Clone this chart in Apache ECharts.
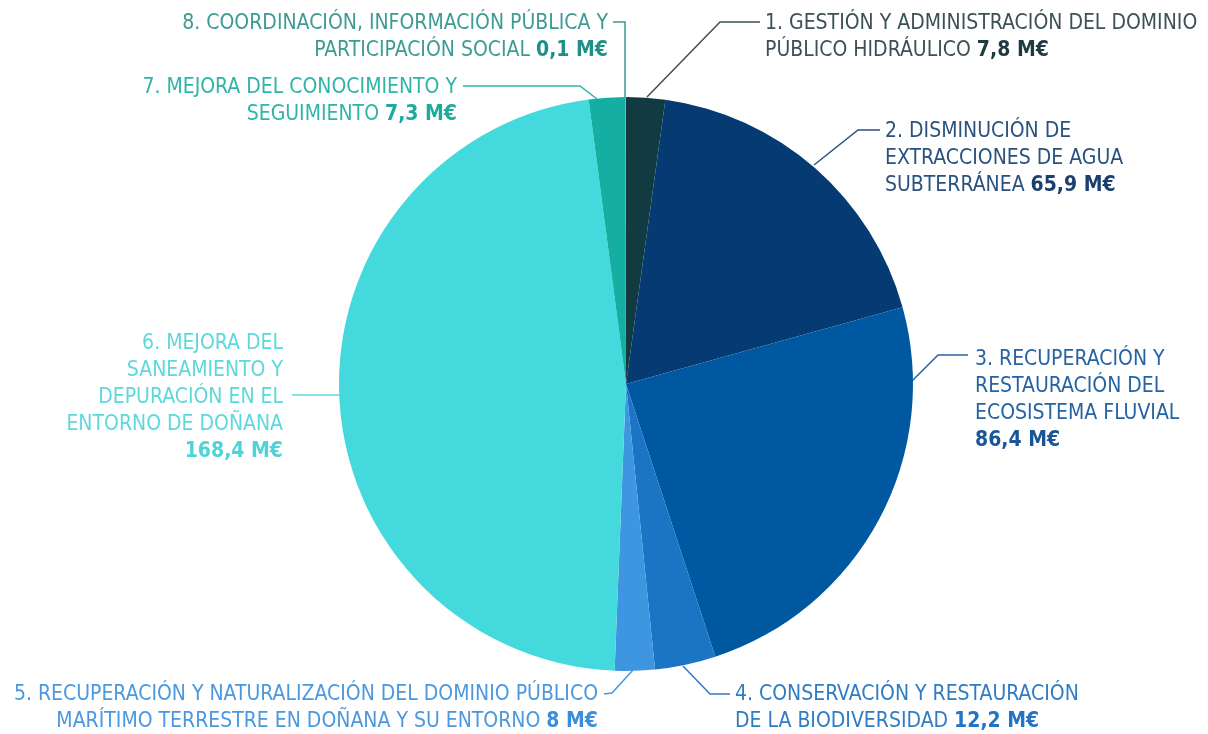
<!DOCTYPE html>
<html>
<head>
<meta charset="utf-8">
<script src="https://cdn.jsdelivr.net/npm/echarts@6/dist/echarts.min.js"></script>
<style>
  html, body { margin: 0; padding: 0; background: #fff; }
  #chart { width: 1208px; height: 734px; }
</style>
</head>
<body>
<div id="chart"></div>
<script>
// datos (M€)
var names = [
  '1. GESTIÓN Y ADMINISTRACIÓN DEL DOMINIO\nPÚBLICO HIDRÁULICO ',
  '2. DISMINUCIÓN DE\nEXTRACCIONES DE AGUA\nSUBTERRÁNEA ',
  '3. RECUPERACIÓN Y\nRESTAURACIÓN DEL\nECOSISTEMA FLUVIAL\n',
  '4. CONSERVACIÓN Y RESTAURACIÓN\nDE LA BIODIVERSIDAD ',
  '5. RECUPERACIÓN Y NATURALIZACIÓN DEL DOMINIO PÚBLICO\nMARÍTIMO TERRESTRE EN DOÑANA Y SU ENTORNO ',
  '6. MEJORA DEL\nSANEAMIENTO Y\nDEPURACIÓN EN EL\nENTORNO DE DOÑANA\n',
  '7. MEJORA DEL CONOCIMIENTO Y\nSEGUIMIENTO ',
  '8. COORDINACIÓN, INFORMACIÓN PÚBLICA Y\nPARTICIPACIÓN SOCIAL '
];
var values = [7.8, 65.9, 86.4, 12.2, 8, 168.4, 7.3, 0.1];

// estilos
var sliceColors = ['#113b40', '#053a73', '#0059a0', '#1c74c5', '#3d96df', '#43d9dd', '#14afa2', '#2ab8a8'];
var textColors = ['#3b5157', '#2a527e', '#2663a3', '#2f7bc4', '#4a98df', '#5cd8dc', '#2fb4a8', '#3d9b94'];
var boldColors = ['#1f3a40', '#1b3f6f', '#1a5597', '#2374c6', '#3a8edb', '#4fd3d8', '#1eaa9d', '#1f8f87'];

// posiciones de etiquetas: [x, y, align, puntos de la línea guía]
var labelPos = [
  [765, 10, 'left', [[647, 97], [720, 22], [760, 22]]],
  [885, 118, 'left', [[814, 165], [858, 130], [880, 130]]],
  [975, 346, 'left', [[912, 381], [938, 355], [968, 355]]],
  [735, 681, 'left', [[683, 666], [710, 694], [730, 694]]],
  [598, 681, 'right', [[633, 670], [612, 693], [604, 694]]],
  [283, 330, 'right', [[341, 395], [316, 395], [292, 395]]],
  [457, 74, 'right', [[597, 99], [580, 86], [463, 86]]],
  [608, 10, 'right', [[625, 97], [625, 22], [613, 22]]]
];

function fmt(v) {
  return (v % 1 === 0 ? String(v) : v.toFixed(1).replace('.', ',')) + ' M€';
}

var font = "'DejaVu Sans Condensed', 'Liberation Sans Narrow', 'Roboto', sans-serif";

var chart = echarts.init(document.getElementById('chart'));
var option = {
  backgroundColor: '#ffffff',
  animation: false,
  series: [{
    type: 'pie',
    center: [626, 384],
    radius: 287,
    startAngle: 90,
    clockwise: true,
    avoidLabelOverlap: false,
    data: values.map(function (v, i) {
      var rich = {};
      rich['b' + i] = { fontWeight: 'bold', color: boldColors[i], fontSize: 21, fontFamily: font, lineHeight: 27 };
      return {
        value: v,
        name: names[i],
        itemStyle: { color: sliceColors[i], borderWidth: 0 },
        label: {
          color: textColors[i],
          align: labelPos[i][2],
          rich: rich
        },
        labelLine: { lineStyle: { color: textColors[i], width: 1.5 } }
      };
    }),
    label: {
      show: true,
      position: 'outside',
      fontSize: 21,
      lineHeight: 27,
      fontFamily: font,
      formatter: function (p) {
        return p.name + '{b' + p.dataIndex + '|' + fmt(p.value) + '}';
      }
    },
    labelLine: { show: true, length: 10, length2: 10 },
    labelLayout: function (params) {
      var lp = labelPos[params.dataIndex];
      return {
        x: lp[0],
        y: lp[1],
        align: lp[2],
        verticalAlign: 'top',
        labelLinePoints: lp[3]
      };
    }
  }]
};
chart.setOption(option);
</script>
</body>
</html>
